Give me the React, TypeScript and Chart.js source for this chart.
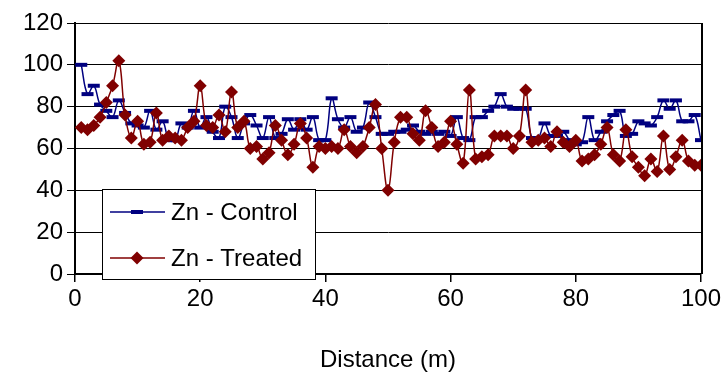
import React, { useEffect, useRef } from 'react';
import { Chart, registerables } from 'chart.js';

Chart.register(...registerables);

const FONT = '"Liberation Sans", Arial, sans-serif';
const NAVY = '#000080';
const DARKRED = '#800000';

const distance = [
  1, 2, 3, 4, 5, 6, 7, 8, 9, 10,
  11, 12, 13, 14, 15, 16, 17, 18, 19, 20,
  21, 22, 23, 24, 25, 26, 27, 28, 29, 30,
  31, 32, 33, 34, 35, 36, 37, 38, 39, 40,
  41, 42, 43, 44, 45, 46, 47, 48, 49, 50,
  51, 52, 53, 54, 55, 56, 57, 58, 59, 60,
  61, 62, 63, 64, 65, 66, 67, 68, 69, 70,
  71, 72, 73, 74, 75, 76, 77, 78, 79, 80,
  81, 82, 83, 84, 85, 86, 87, 88, 89, 90,
  91, 92, 93, 94, 95, 96, 97, 98, 99, 100,
];

const znControl = [
  100, 86, 90, 81, 78, 75, 83, 77, 72, 71,
  70, 78, 69, 73, 64, 64, 72, 70, 78, 70,
  75, 68, 65, 80, 75, 65, 72, 76, 71, 65,
  75, 65, 67, 74, 69, 74, 69, 75, 64, 64,
  84, 74, 70, 75, 68, 70, 82, 75, 67, 67,
  68, 68, 69, 71, 68, 67, 68, 67, 68, 66,
  75, 65, 64, 75, 75, 78, 80, 86, 80, 79,
  79, 79, 65, 65, 72, 66, 66, 68, 64, 62,
  63, 75, 64, 68, 73, 76, 78, 66, 67, 73,
  72, 71, 75, 83, 79, 83, 73, 73, 76, 64,
];

const znTreated = [
  70, 69, 71, 75, 82, 90, 102, 76, 65, 73,
  62, 63, 77, 64, 66, 65, 64, 70, 73, 90,
  71, 70, 76, 68, 87, 70, 73, 60, 61, 55,
  58, 71, 64, 57, 62, 72, 65, 51, 61, 60,
  61, 60, 69, 61, 58, 61, 70, 81, 60, 40,
  63, 75, 75, 67, 64, 78, 70, 61, 63, 73,
  62, 53, 88, 55, 56, 57, 66, 66, 66, 60,
  66, 88, 63, 64, 65, 61, 68, 63, 61, 64,
  54, 55, 57, 62, 70, 57, 54, 69, 56, 51,
  47, 55, 49, 66, 50, 56, 64, 54, 52, 52,
];

const seriesNames = ['Zn - Control', 'Zn - Treated'];
const xTitle = 'Distance (m)';

const boxLegend = {
  id: 'boxLegend',
  afterDraw(chart: any) {
    const ctx = chart.ctx;
    const area = chart.chartArea;
    ctx.save();
    // right plot border
    ctx.strokeStyle = '#000';
    ctx.lineWidth = 2;
    ctx.beginPath();
    ctx.moveTo(area.right + 1, area.top);
    ctx.lineTo(area.right + 1, area.bottom);
    ctx.stroke();

    // legend box
    const bx = 102.5, by = 189.5, bw = 213, bh = 90;
    ctx.fillStyle = '#fff';
    ctx.fillRect(bx, by, bw, bh);
    ctx.strokeStyle = '#000';
    ctx.lineWidth = 1;
    ctx.strokeRect(bx, by, bw, bh);

    const y1 = 212, y2 = 258;
    // control entry
    ctx.strokeStyle = NAVY;
    ctx.lineWidth = 1.5;
    ctx.beginPath();
    ctx.moveTo(110, y1);
    ctx.lineTo(165, y1);
    ctx.stroke();
    ctx.fillStyle = NAVY;
    ctx.fillRect(131, y1 - 2, 12, 4);
    // treated entry
    ctx.strokeStyle = DARKRED;
    ctx.beginPath();
    ctx.moveTo(110, y2);
    ctx.lineTo(165, y2);
    ctx.stroke();
    ctx.fillStyle = DARKRED;
    ctx.beginPath();
    ctx.moveTo(137 - 6.5, y2);
    ctx.lineTo(137, y2 - 6.5);
    ctx.lineTo(137 + 6.5, y2);
    ctx.lineTo(137, y2 + 6.5);
    ctx.closePath();
    ctx.fill();

    ctx.fillStyle = '#000';
    ctx.font = '24px ' + FONT;
    ctx.textBaseline = 'middle';
    ctx.textAlign = 'left';
    ctx.fillText(seriesNames[0], 171, y1 + 1);
    ctx.fillText(seriesNames[1], 171, y2 + 1);
    ctx.restore();
  },
};

export default function App() {
  const ref = useRef<HTMLCanvasElement | null>(null);

  useEffect(() => {
    document.body.style.margin = '0';
    const canvas = ref.current;
    if (!canvas) return;
    const chart = new Chart(canvas, {
      type: 'line',
      data: {
        datasets: [
          {
            label: seriesNames[0],
            data: distance.map((d, i) => ({ x: d, y: znControl[i] })),
            borderColor: NAVY,
            borderWidth: 1.5,
            tension: 0.4,
            pointStyle: 'line',
            pointRadius: 6,
            pointBorderWidth: 4,
            pointBorderColor: NAVY,
            pointBackgroundColor: NAVY,
            order: 2,
          },
          {
            label: seriesNames[1],
            data: distance.map((d, i) => ({ x: d, y: znTreated[i] })),
            borderColor: DARKRED,
            borderWidth: 1.5,
            tension: 0.4,
            pointStyle: 'rectRot',
            pointRadius: 6.5,
            pointBorderWidth: 0,
            pointBorderColor: DARKRED,
            pointBackgroundColor: DARKRED,
            order: 1,
          },
        ],
      },
      options: {
        responsive: false,
        animation: false,
        devicePixelRatio: 1,
        layout: { padding: { top: 23, right: 23, left: 0, bottom: 0 } },
        plugins: {
          legend: { display: false },
          tooltip: { enabled: false },
        },
        scales: {
          x: {
            type: 'linear',
            min: 0,
            max: 100,
            ticks: {
              stepSize: 20,
              color: '#000',
              font: { size: 24, family: FONT },
              padding: 3,
              maxRotation: 0,
            },
            grid: {
              drawOnChartArea: false,
              drawTicks: true,
              tickLength: 8,
              color: '#000',
              lineWidth: 1.5,
            },
            border: { color: '#000', width: 2 },
            title: {
              display: true,
              text: xTitle,
              color: '#000',
              font: { size: 24, family: FONT },
              padding: { top: 0, bottom: 1 },
            },
            afterFit(scale: any) {
              scale.height = 102;
            },
          },
          y: {
            min: 0,
            max: 120,
            ticks: {
              stepSize: 20,
              color: '#000',
              font: { size: 24, family: FONT },
              padding: 4,
            },
            grid: {
              color: '#000',
              lineWidth: 1,
              tickLength: 8,
            },
            border: { color: '#000', width: 2 },
            afterFit(scale: any) {
              scale.width = 75;
            },
          },
        },
      },
      plugins: [boxLegend],
    });
    return () => chart.destroy();
  }, []);

  return (
    <div style={{ position: 'fixed', left: 0, top: 0, width: 724, height: 376, background: '#fff' }}>
      <canvas ref={ref} width={724} height={376} />
    </div>
  );
}
